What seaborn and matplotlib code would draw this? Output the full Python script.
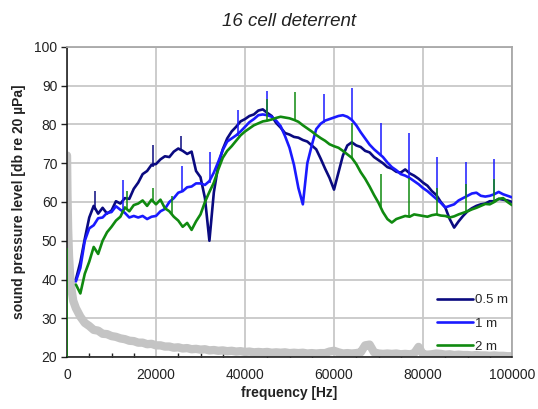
import numpy as np
import pandas as pd
import matplotlib
matplotlib.use("Agg")
import matplotlib.pyplot as plt
import seaborn as sns
from matplotlib.ticker import MultipleLocator

sns.set_style("white")
plt.rcParams['font.family'] = ['Liberation Sans', 'DejaVu Sans']

# frequency grid shared by the measured spectra (Hz)
freq_hz = list(range(2000, 100001, 1000))

# 0.5 m
half_m = [40.0, 44.5, 50.5, 56.0, 59.0, 57.0, 58.5, 57.0, 57.8, 60.2,
          59.6, 61.0, 60.8, 63.4, 65.0, 67.2, 68.0, 69.6, 69.8, 71.0,
          71.8, 71.6, 73.0, 73.8, 73.2, 72.4, 73.0, 68.0, 66.4, 61.0,
          50.0, 62.5, 69.5, 73.6, 76.4, 78.2, 79.4, 80.8, 81.4, 82.2,
          82.6, 83.6, 83.9, 83.0, 82.2, 80.4, 79.2, 77.8, 77.4, 76.8,
          76.6, 76.0, 75.6, 74.6, 73.6, 71.2, 68.6, 66.2, 63.2, 67.6,
          72.0, 74.6, 75.4, 74.6, 74.2, 73.2, 72.8, 71.6, 70.8, 70.0,
          69.0, 68.6, 67.8, 67.6, 68.4, 67.4, 66.8, 66.0, 65.0, 64.2,
          62.8, 61.8, 60.0, 58.6, 55.6, 53.4, 55.0, 56.4, 57.6, 58.4,
          59.0, 59.4, 59.6, 60.2, 60.2, 60.8, 60.6, 60.4, 60.0]

# 1 m
one_m = [39.5, 43.0, 50.0, 53.2, 54.0, 55.8, 56.0, 57.2, 57.4, 58.9,
         58.0, 57.2, 56.0, 56.4, 56.0, 56.4, 55.6, 56.2, 56.4, 57.6,
         58.2, 60.0, 61.0, 62.4, 62.8, 63.8, 64.0, 64.8, 64.8, 64.4,
         65.4, 67.6, 70.4, 73.4, 75.6, 76.4, 77.2, 78.2, 79.4, 80.6,
         81.4, 82.4, 82.6, 82.4, 82.0, 81.0, 79.6, 77.0, 74.0, 69.6,
         63.6, 59.4, 70.0, 74.6, 78.8, 80.2, 81.0, 81.4, 81.8, 82.2,
         82.4, 82.0, 81.2, 79.8, 78.0, 76.4, 74.8, 73.6, 72.6, 71.6,
         70.2, 69.0, 68.2, 67.2, 66.8, 66.2, 65.4, 64.6, 63.6, 62.8,
         61.8, 60.8, 59.8, 58.6, 59.0, 59.4, 60.4, 61.0, 61.6, 62.2,
         62.4, 61.6, 61.4, 61.6, 62.0, 62.6, 62.0, 61.6, 61.2]

# 2 m
two_m = [38.7, 36.4, 41.5, 44.6, 48.4, 46.6, 50.0, 52.2, 53.6, 55.2,
         56.2, 58.6, 57.6, 59.2, 59.6, 60.4, 59.0, 60.6, 59.4, 60.6,
         58.4, 57.6, 56.2, 55.2, 53.6, 54.6, 52.8, 55.0, 56.8, 60.0,
         62.6, 65.0, 68.4, 71.4, 73.2, 74.4, 75.8, 77.2, 78.2, 79.0,
         79.8, 80.3, 80.8, 81.0, 81.3, 81.7, 82.0, 81.8, 81.6, 81.2,
         80.7, 79.8, 79.0, 78.2, 77.3, 76.5, 75.8, 74.9, 74.4, 74.0,
         73.2, 72.3, 71.4, 69.8, 67.7, 66.0, 64.0, 61.8, 59.8, 57.4,
         55.6, 54.7, 55.6, 56.0, 56.4, 56.2, 56.8, 56.6, 56.4, 56.2,
         56.6, 56.8, 56.5, 56.4, 56.0, 56.3, 56.8, 57.2, 57.6, 58.1,
         58.5, 59.0, 59.5, 59.4, 60.0, 60.8, 61.0, 60.0, 59.2]

# background noise (grey)
noise_low_f = [0, 100, 250, 450, 700, 1000, 1400]
noise_low = [72.0, 62.0, 53.0, 46.0, 41.0, 37.5, 34.5]
noise = [32.6, 30.4, 28.8, 28.0, 27.0, 26.8, 26.0, 25.9, 25.4, 25.2,
         24.8, 24.6, 24.2, 24.1, 23.7, 23.7, 23.3, 23.4, 23.0, 23.0,
         22.7, 22.7, 22.4, 22.5, 22.2, 22.3, 22.0, 22.1, 21.9, 22.0,
         21.7, 21.8, 21.6, 21.7, 21.5, 21.6, 21.4, 21.5, 21.3, 21.4,
         21.2, 21.3, 21.2, 21.3, 21.1, 21.2, 21.1, 21.2, 21.0, 21.1,
         21.0, 21.1, 20.9, 21.0, 20.9, 21.0, 21.0, 21.4, 21.6, 21.2,
         20.9, 21.0, 20.9, 21.0, 21.2, 23.0, 23.2, 21.2, 20.9, 20.8,
         20.9, 20.8, 20.9, 20.7, 20.8, 20.7, 20.9, 22.6, 20.7, 20.6,
         20.7, 20.9, 20.8, 20.6, 20.7, 20.5, 20.6, 20.5, 20.5, 20.4,
         20.5, 20.4, 20.4, 20.3, 20.4, 20.3, 20.3, 20.2, 20.2]

# narrow tonal spikes: frequency, foot, peak
half_spike_f = [6400, 19250, 25650]
half_spike_lo = [58.0, 69.0, 73.5]
half_spike_hi = [62.8, 74.8, 77.0]

one_spike_f = [12630, 25800, 32150, 38350, 44870, 57750, 64050, 70500, 76850, 83250, 89650, 96000]
one_spike_lo = [58.0, 62.5, 65.0, 77.0, 82.4, 80.5, 81.0, 72.0, 66.5, 60.5, 61.0, 62.0]
one_spike_hi = [65.8, 69.2, 73.0, 83.7, 88.6, 87.8, 89.3, 80.5, 77.9, 71.5, 70.2, 71.0]

two_spike_f = [0, 13400, 19300, 23500, 44870, 51200, 64000, 70500, 76850, 83250, 89650, 96000]
two_spike_lo = [19.0, 58.0, 60.0, 57.0, 81.0, 81.2, 71.3, 58.5, 56.3, 56.7, 57.4, 60.0]
two_spike_hi = [48.0, 62.8, 63.7, 61.5, 86.7, 88.3, 80.3, 67.3, 66.3, 63.7, 64.6, 65.9]

labels = ['0.5 m', '1 m', '2 m']
colors = ['#0a0a80', '#1a1aff', '#108a10']
grey = '#c4c4c4'

df = pd.DataFrame({
    'frequency': freq_hz * 3,
    'level': half_m + one_m + two_m,
    'distance': [labels[0]] * len(freq_hz) + [labels[1]] * len(freq_hz) + [labels[2]] * len(freq_hz),
})
noise_df = pd.DataFrame({'frequency': noise_low_f + freq_hz, 'level': noise_low + noise})

fig = plt.figure(figsize=(5.38, 4.09), dpi=100)
ax = fig.add_axes([67 / 538, 52 / 409, 445 / 538, 310 / 409])

sns.lineplot(data=noise_df, x='frequency', y='level', color=grey, lw=6,
             estimator=None, sort=False, ax=ax, legend=False, zorder=2)
sns.lineplot(data=df, x='frequency', y='level', hue='distance', hue_order=labels,
             palette=colors, lw=1.9, estimator=None, sort=False, ax=ax, zorder=3)

# spikes
for sf, lo, hi, c in [(half_spike_f, half_spike_lo, half_spike_hi, colors[0]),
                      (one_spike_f, one_spike_lo, one_spike_hi, colors[1]),
                      (two_spike_f, two_spike_lo, two_spike_hi, colors[2])]:
    ax.vlines(sf, lo, hi, color=c, lw=1.1, zorder=4)

ax.set_xlim(0, 100000)
ax.set_ylim(20, 100)
x_ticks = [0, 20000, 40000, 60000, 80000, 100000]
ax.set_xticks(x_ticks)
ax.set_xticklabels([str(t) for t in x_ticks])
ax.set_yticks(range(20, 101, 10))
ax.xaxis.set_minor_locator(MultipleLocator(5000))
ax.tick_params(axis='x', which='major', direction='out', length=4, width=1,
               labelsize=10, pad=4, colors='#222222')
ax.tick_params(axis='x', which='minor', direction='in', length=3, width=1,
               color='#222222', bottom=True)
ax.tick_params(axis='y', which='major', direction='out', length=4, width=1,
               labelsize=10, pad=3, colors='#222222', left=True)

ax.grid(True, which='major', color='#c8c8c8', lw=1.3)
ax.set_axisbelow(True)
for side in ['top', 'right']:
    ax.spines[side].set_color('#a8a8a8')
    ax.spines[side].set_linewidth(1.3)
for side in ['left', 'bottom']:
    ax.spines[side].set_color('#111111')
    ax.spines[side].set_linewidth(1.1)

ax.set_title('16 cell deterrent', fontsize=13.5, style='italic', pad=15, color='#222222')
ax.set_xlabel('frequency [Hz]', fontsize=10, fontweight='bold', labelpad=3, color='#222222')
ax.set_ylabel('sound pressure level [db re 20 µPa]', fontsize=10, fontweight='bold',
              labelpad=6, color='#222222')

handles, lbls = ax.get_legend_handles_labels()
ax.legend(handles, lbls, loc='lower right', bbox_to_anchor=(1.0, 0.0), frameon=False,
          fontsize=9.5, handlelength=2.7, handletextpad=0.15, labelspacing=0.85,
          borderpad=0.3, borderaxespad=0.0)

fig.savefig('out.png', dpi=100)
